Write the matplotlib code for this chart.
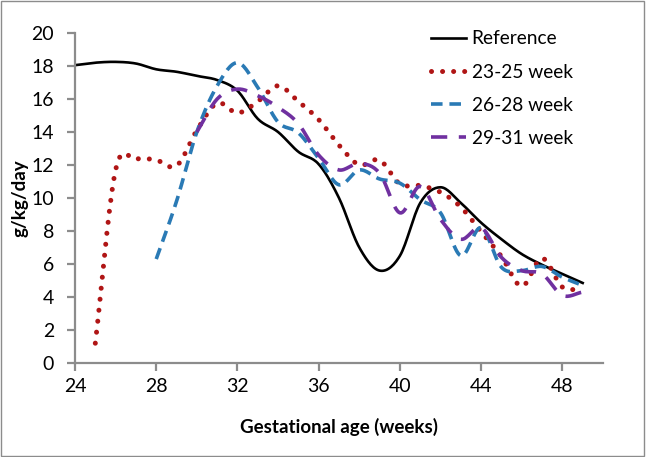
import matplotlib
matplotlib.use("Agg")
import matplotlib.pyplot as plt
import numpy as np

plt.rcParams['font.family'] = ['Lato', 'DejaVu Sans']

# weekly values (g/kg/day)
ref_weeks = list(range(24, 50))
ref_vals = [18.05, 18.2, 18.25, 18.15, 17.8, 17.65, 17.4, 17.15, 16.5, 14.8,
            14.0, 12.8, 12.05, 10.0, 7.0, 5.6, 6.5, 9.7, 10.65, 9.7,
            8.5, 7.5, 6.6, 5.95, 5.4, 4.85]

w2325_weeks = list(range(25, 50))
w2325_vals = [1.2, 11.7, 12.35, 12.3, 11.95, 14.1, 15.75, 15.15, 15.85, 16.8,
              15.85, 14.75, 13.2, 12.0, 12.3, 10.85, 10.75, 10.35, 9.45, 7.95,
              6.45, 4.65, 6.35, 4.6, 4.5]

w2628_weeks = list(range(28, 50))
w2628_vals = [6.3, 9.8, 14.0, 16.8, 18.2, 16.7, 14.6, 13.95, 12.4, 10.8,
              11.7, 11.15, 10.9, 9.9, 9.1, 6.5, 8.2, 5.8, 5.6, 5.85,
              5.2, 4.7]

w2931_weeks = list(range(30, 50))
w2931_vals = [14.0, 16.0, 16.6, 16.2, 15.5, 14.5, 12.6, 11.7, 12.1, 11.5,
              9.1, 10.7, 8.7, 7.5, 8.2, 6.4, 5.6, 5.4, 4.1, 4.3]


def smooth(x, y, n=16):
    # Catmull-Rom through the points, like Excel's smoothed line
    p = np.column_stack([x, y]).astype(float)
    p = np.vstack([2 * p[0] - p[1], p, 2 * p[-1] - p[-2]])
    t = np.linspace(0, 1, n, endpoint=False)[:, None]
    out = []
    for i in range(1, len(p) - 2):
        p0, p1, p2, p3 = p[i - 1], p[i], p[i + 1], p[i + 2]
        seg = 0.5 * (2 * p1 + (-p0 + p2) * t
                     + (2 * p0 - 5 * p1 + 4 * p2 - p3) * t ** 2
                     + (-p0 + 3 * p1 - 3 * p2 + p3) * t ** 3)
        out.append(seg)
    out.append(p[-2][None, :])
    s = np.vstack(out)
    return s[:, 0], s[:, 1]


fig = plt.figure(figsize=(6.46, 4.57), dpi=100)
ax = fig.add_axes([75 / 646, 94 / 457, 528 / 646, 330 / 457])

ax.plot(*smooth(ref_weeks, ref_vals), color='black', lw=1.9,
        label='Reference')
ax.plot(*smooth(w2325_weeks, w2325_vals), color='#b01515', lw=3.6,
        linestyle=(0, (0.01, 2.2)), dash_capstyle='round',
        label='23-25 week')
ax.plot(*smooth(w2628_weeks, w2628_vals), color='#2a7ab5', lw=2.6,
        linestyle=(0, (3.2, 1.9)), label='26-28 week')
ax.plot(*smooth(w2931_weeks, w2931_vals), color='#7030a0', lw=2.6,
        linestyle=(0, (4.5, 3.2)), label='29-31 week')

ax.set_xlim(24, 50)
ax.set_ylim(0, 20)
ax.set_xticks(range(24, 50, 4))
ax.set_yticks(range(0, 21, 2))

for s in ['top', 'right']:
    ax.spines[s].set_visible(False)
for s in ['left', 'bottom']:
    ax.spines[s].set_color('#8c8c8c')
    ax.spines[s].set_linewidth(1.6)
ax.tick_params(axis='both', colors='#8c8c8c', width=1.6, length=6,
               labelsize=14, labelcolor='black')
ax.tick_params(axis='y', pad=9)
ax.tick_params(axis='x', pad=5)

ax.set_xlabel('Gestational age (weeks)', fontsize=13.5, fontweight='bold',
              labelpad=16)
ax.set_ylabel('g/kg/day', fontsize=13.5, fontweight='bold', labelpad=2)

leg = ax.legend(loc='upper left', bbox_to_anchor=(414 / 646, 1 - 13 / 457),
                bbox_transform=fig.transFigure, frameon=False, fontsize=13.8,
                handlelength=1.8, handletextpad=0.3, labelspacing=0.85)

fig.patches.append(plt.Rectangle((0.002, 0.002), 0.995, 0.995,
                                 transform=fig.transFigure, fill=False,
                                 edgecolor='#8c8c8c', lw=1))

fig.savefig('out.png', dpi=100)
